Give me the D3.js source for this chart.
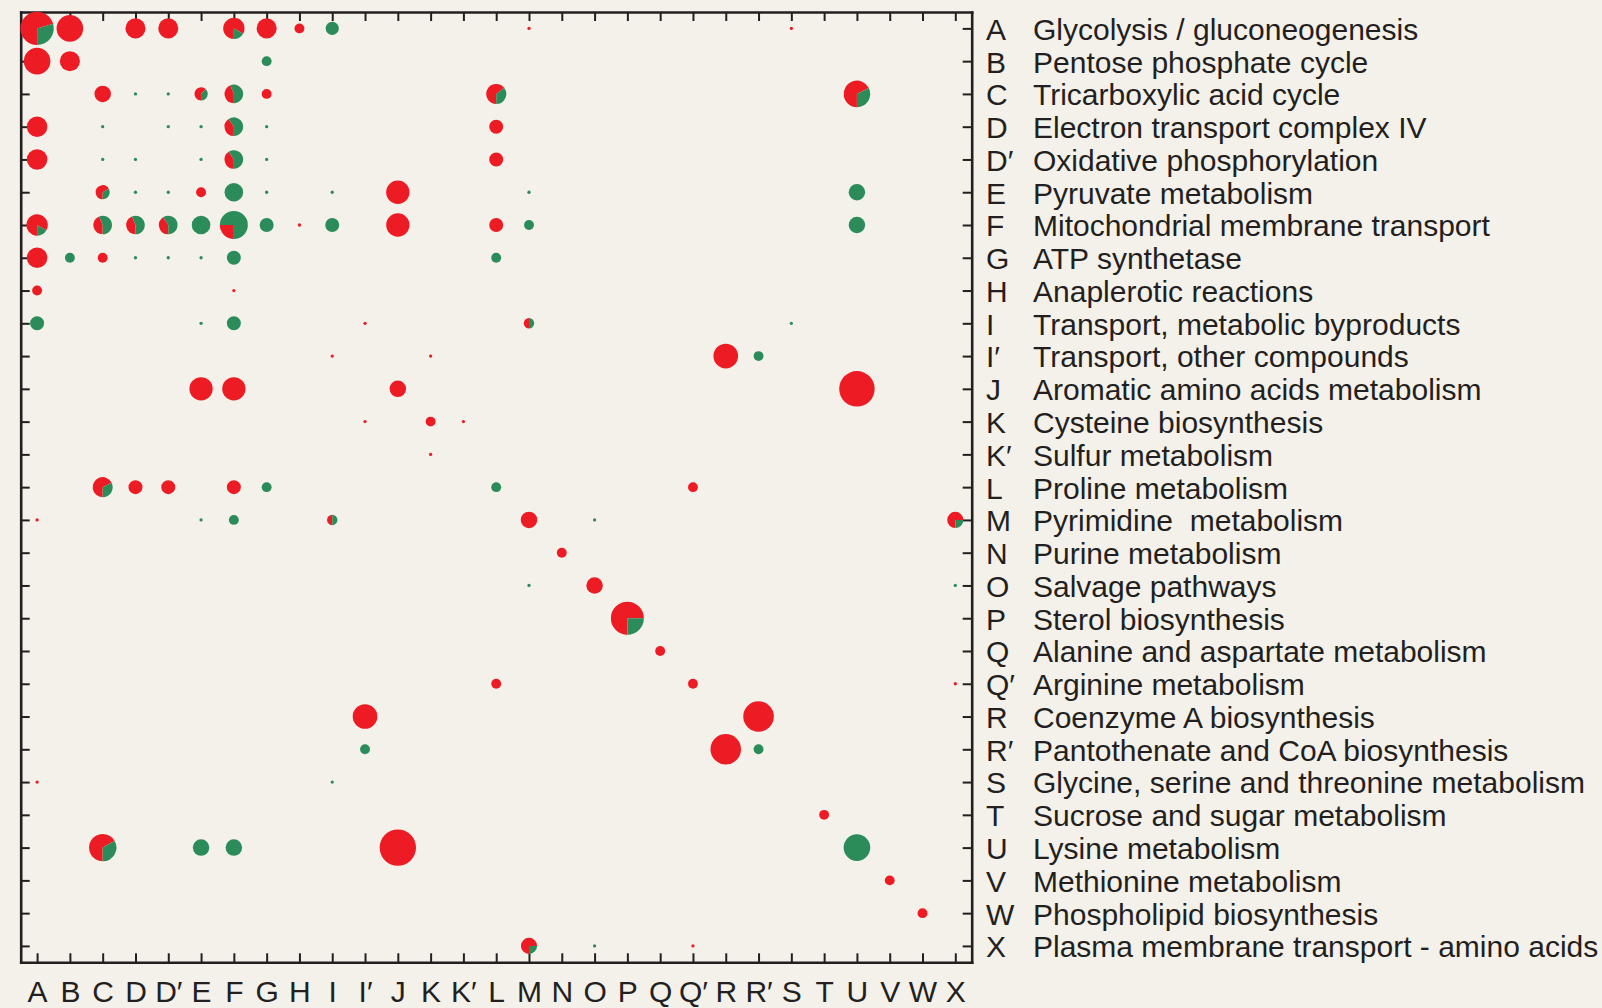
<!DOCTYPE html>
<html><head><meta charset="utf-8">
<script src="https://cdn.jsdelivr.net/npm/d3@7"></script>
<style>
html,body{margin:0;padding:0;background:#f4f1ea;}
svg{display:block;}
</style></head><body>
<svg id="chart" width="1602" height="1008"></svg>
<script>
// Category codes (rows and columns share the same order)
const codes = ["A","B","C","D","D′","E","F","G","H","I","I′","J","K","K′","L","M","N","O","P","Q","Q′","R","R′","S","T","U","V","W","X"];

// Pathway names shown in the legend
const pathways = [
  "Glycolysis / gluconeogenesis",
  "Pentose phosphate cycle",
  "Tricarboxylic acid cycle",
  "Electron transport complex IV",
  "Oxidative phosphorylation",
  "Pyruvate metabolism",
  "Mitochondrial membrane transport",
  "ATP synthetase",
  "Anaplerotic reactions",
  "Transport, metabolic byproducts",
  "Transport, other compounds",
  "Aromatic amino acids metabolism",
  "Cysteine biosynthesis",
  "Sulfur metabolism",
  "Proline metabolism",
  "Pyrimidine  metabolism",
  "Purine metabolism",
  "Salvage pathways",
  "Sterol biosynthesis",
  "Alanine and aspartate metabolism",
  "Arginine metabolism",
  "Coenzyme A biosynthesis",
  "Pantothenate and CoA biosynthesis",
  "Glycine, serine and threonine metabolism",
  "Sucrose and sugar metabolism",
  "Lysine metabolism",
  "Methionine metabolism",
  "Phospholipid biosynthesis",
  "Plasma membrane transport - amino acids"
];

// Cells: [row, column, red count, green count]
const cells = [
  ["A","A",72,30],["A","B",65,0],["A","D",37,0],["A","D′",37,0],["A","F",35,7],["A","G",37,0],["A","H",9,0],["A","I",0,16],["A","M",1,0],["A","S",1,0],
  ["B","A",65,0],["B","B",37,0],["B","G",0,9],
  ["C","C",25,0],["C","D",0,1],["C","D′",0,1],["C","E",10,6],["C","F",14,18],["C","G",9,0],["C","L",24,13],["C","U",44,21],
  ["D","A",39,0],["D","C",0,1],["D","D′",0,1],["D","E",0,1],["D","F",13,19],["D","G",0,1],["D","L",18,0],
  ["D′","A",39,0],["D′","C",0,1],["D′","D",0,1],["D′","E",0,1],["D′","F",13,19],["D′","G",0,1],["D′","L",18,0],
  ["E","C",12,6],["E","D",0,1],["E","D′",0,1],["E","E",9,0],["E","F",0,32],["E","G",0,1],["E","I",0,1],["E","J",50,0],["E","M",0,1],["E","U",0,25],
  ["F","A",35,7],["F","C",14,18],["F","D",14,18],["F","D′",13,19],["F","E",0,32],["F","F",18,54],["F","G",0,18],["F","H",1,0],["F","I",0,18],["F","J",50,0],["F","L",18,0],["F","M",0,9],["F","U",0,25],
  ["G","A",39,0],["G","B",0,9],["G","C",9,0],["G","D",0,1],["G","D′",0,1],["G","E",0,1],["G","F",0,18],["G","L",0,9],
  ["H","A",9,0],["H","F",1,0],
  ["I","A",0,18],["I","E",0,1],["I","F",0,18],["I","I′",1,0],["I","M",5,5],["I","S",0,1],
  ["I′","I",1,0],["I′","K",1,0],["I′","R",56,0],["I′","R′",0,9],
  ["J","E",50,0],["J","F",50,0],["J","J",25,0],["J","U",116,0],
  ["K","I′",1,0],["K","K",9,0],["K","K′",1,0],
  ["K′","K",1,0],
  ["L","C",25,12],["L","D",18,0],["L","D′",18,0],["L","F",18,0],["L","G",0,9],["L","L",0,9],["L","Q′",9,0],
  ["M","A",1,0],["M","E",0,1],["M","F",0,9],["M","I",5,5],["M","M",25,0],["M","O",0,1],["M","X",18,6],
  ["N","N",9,0],
  ["O","M",0,1],["O","O",25,0],["O","X",0,1],
  ["P","P",75,25],
  ["Q","Q",9,0],
  ["Q′","L",9,0],["Q′","Q′",9,0],["Q′","X",1,0],
  ["R","I′",56,0],["R","R′",86,0],
  ["R′","I′",0,9],["R′","R",86,0],["R′","R′",0,9],
  ["S","A",1,0],["S","I",0,1],
  ["T","T",9,0],
  ["U","C",46,23],["U","E",0,25],["U","F",0,25],["U","J",122,0],["U","U",0,65],
  ["V","V",9,0],
  ["W","W",9,0],
  ["X","M",18,6],["X","O",0,1],["X","Q′",1,0]
];

const sliceColors = ["#ed1c24", "#2b8c5a"];
const ink = "#231f20";

const svg = d3.select("#chart");
svg.append("rect").attr("width",1602).attr("height",1008).attr("fill","#f4f1ea");

const plotLeft = 20.7, plotRight = 971.7, plotTop = 12, plotBottom = 962.3;
const x = d3.scalePoint().domain(codes).range([plotLeft, plotRight]).padding(0.5);
const y = d3.scalePoint().domain(codes).range([plotTop, plotBottom]).padding(0.5);
const maxTotal = d3.max(cells, c => c[2] + c[3]);
const r = d3.scaleSqrt().domain([0, maxTotal]).range([0, 18.2]);

function styleAxis(g) {
  g.attr("font-family", null).attr("font-size", null).attr("color", ink);
  g.select(".domain").attr("stroke-width", 2.6).attr("stroke-linecap", "square");
  g.selectAll(".tick line").attr("stroke-width", 2);
  g.selectAll(".tick text")
    .style("font-family", "'Liberation Sans', Arial, Helvetica, sans-serif")
    .style("font-size", "30px")
    .attr("fill", ink);
}

svg.append("g").attr("transform", `translate(0,${plotTop})`)
  .call(d3.axisTop(x).tickSize(-9).tickSizeOuter(0).tickFormat(""))
  .call(styleAxis);
svg.append("g").attr("transform", `translate(0,${plotBottom})`)
  .call(d3.axisBottom(x).tickSize(-9).tickSizeOuter(0).tickPadding(18))
  .call(styleAxis);
svg.append("g").attr("transform", `translate(${plotLeft},0)`)
  .call(d3.axisLeft(y).tickSize(-9).tickSizeOuter(0).tickFormat(""))
  .call(styleAxis);
svg.append("g").attr("transform", `translate(${plotRight},0)`)
  .call(d3.axisRight(y).tickSize(-9).tickSizeOuter(0).tickFormat(""))
  .call(styleAxis);

// Legend
const legend = svg.append("g")
  .style("font-family", "'Liberation Sans', Arial, Helvetica, sans-serif")
  .style("font-size", "30px")
  .attr("fill", ink);
legend.selectAll("text.code").data(codes).join("text")
  .attr("class", "code")
  .attr("x", 986).attr("y", d => y(d)).attr("dy", "0.38em")
  .text(d => d);
legend.selectAll("text.name").data(codes).join("text")
  .attr("class", "name")
  .attr("x", 1033).attr("y", d => y(d)).attr("dy", "0.38em")
  .style("white-space", "pre")
  .text((d, i) => pathways[i]);

// Pies
const pie = d3.pie().sort(null).startAngle(Math.PI).endAngle(3 * Math.PI);
const arc = d3.arc().innerRadius(0);
const cellG = svg.append("g").selectAll("g").data(cells).join("g")
  .attr("transform", d => `translate(${x(d[1])},${y(d[0])})`);
cellG.each(function(d) {
  const rad = r(d[2] + d[3]);
  d3.select(this).selectAll("path").data(pie([d[2], d[3]]).filter(p => p.value > 0)).join("path")
    .attr("d", p => arc.outerRadius(rad)(p))
    .attr("fill", p => sliceColors[p.index]);
});
</script>
</body></html>
